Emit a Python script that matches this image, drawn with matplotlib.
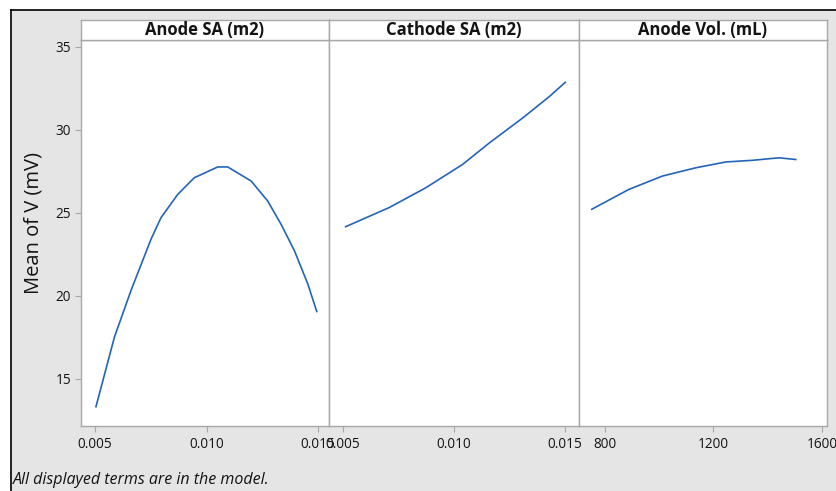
import matplotlib
matplotlib.use("Agg")
import matplotlib.pyplot as plt
from matplotlib.patches import Rectangle

plt.rcParams['font.family'] = ['Open Sans', 'DejaVu Sans']

# Data
anode_sa_x = [0.00504, 0.00587, 0.00661, 0.00751, 0.00796, 0.00871, 0.00945, 0.01050,
              0.01095, 0.01200, 0.01274, 0.01334, 0.01394, 0.01454, 0.01494]
anode_sa_y = [13.3, 17.5, 20.3, 23.4, 24.7, 26.1, 27.1, 27.75,
              27.75, 26.9, 25.7, 24.3, 22.7, 20.7, 19.04]
cathode_sa_x = [0.00512, 0.00708, 0.00874, 0.01039, 0.01160, 0.01310, 0.01431, 0.01502]
cathode_sa_y = [24.15, 25.3, 26.5, 27.9, 29.2, 30.7, 32.0, 32.85]
anode_vol_x = [752, 889, 1012, 1135, 1245, 1343, 1441, 1503]
anode_vol_y = [25.2, 26.4, 27.2, 27.7, 28.05, 28.15, 28.3, 28.2]

titles = ["Anode SA (m2)", "Cathode SA (m2)", "Anode Vol. (mL)"]
xticks = [[0.005, 0.010, 0.015], [0.005, 0.010, 0.015], [800, 1200, 1600]]
xticklabels = [["0.005", "0.010", "0.015"], ["0.005", "0.010", "0.015"], ["800", "1200", "1600"]]
yticks = [15, 20, 25, 30, 35]
xlims = [(0.00437, 0.01549), (0.00437, 0.01564), (705, 1618)]
ylim = (12.14, 35.4)

W, H = 837, 491
fig = plt.figure(figsize=(W / 100, H / 100), dpi=100)
fig.patch.set_facecolor('white')

# gray background with black frame on top/left
bg = Rectangle((11 / W, 0), 1 - 11 / W, 1 - 10 / H, transform=fig.transFigure,
               facecolor='#E5E5E5', edgecolor='none', zorder=-10)
fig.add_artist(bg)
fig.add_artist(plt.Line2D([11 / W, 11 / W], [0, 1 - 10 / H], color='black', lw=1.2,
                          transform=fig.transFigure, zorder=-5))
fig.add_artist(plt.Line2D([11 / W, 1], [1 - 10 / H, 1 - 10 / H], color='black', lw=1.2,
                          transform=fig.transFigure, zorder=-5))

edges = [81, 329, 579, 827]
top_strip, bot_strip, bot_panel = 20, 40, 426
frame_col = '#A8A8A8'
line_col = '#2464B8'
text_col = '#141414'
xs = [anode_sa_x, cathode_sa_x, anode_vol_x]
ys = [anode_sa_y, cathode_sa_y, anode_vol_y]

for i in range(3):
    l, r = edges[i], edges[i + 1]
    ax = fig.add_axes([l / W, (H - bot_panel) / H, (r - l) / W, (bot_panel - bot_strip) / H])
    ax.set_facecolor('white')
    ax.plot(xs[i], ys[i], color=line_col, lw=1.2)
    ax.set_xlim(*xlims[i])
    ax.set_ylim(*ylim)
    ax.set_xticks(xticks[i])
    ax.set_xticklabels(xticklabels[i])
    for s in ax.spines.values():
        s.set_color(frame_col)
        s.set_linewidth(1.0)
    ax.tick_params(axis='x', direction='out', length=4, color=frame_col, labelsize=9.8,
                   labelcolor=text_col, pad=4)
    if i == 0:
        ax.set_yticks(yticks)
        ax.tick_params(axis='y', direction='out', length=4, color=frame_col, labelsize=9.8,
                       labelcolor=text_col, pad=3)
        ax.set_ylabel("Mean of V (mV)", fontsize=14.5, color=text_col, va='center')
        ax.yaxis.set_label_coords((33 - 81) / (r - l), (426 - 223) / (426 - 40))
    else:
        ax.set_yticks([])

    sax = fig.add_axes([l / W, (H - bot_strip) / H, (r - l) / W, (bot_strip - top_strip) / H])
    sax.set_facecolor('white')
    sax.set_xticks([])
    sax.set_yticks([])
    for s in sax.spines.values():
        s.set_color(frame_col)
        s.set_linewidth(1.0)
    sax.text(0.5, 0.5, titles[i], ha='center', va='center', fontsize=12, fontweight='bold',
             color=text_col, transform=sax.transAxes)

fig.text(13 / W, (H - 480) / H, "All displayed terms are in the model.", fontsize=11.5,
         style='italic', color=text_col, ha='left', va='center')

fig.savefig("out.png", dpi=100, facecolor=fig.get_facecolor())
